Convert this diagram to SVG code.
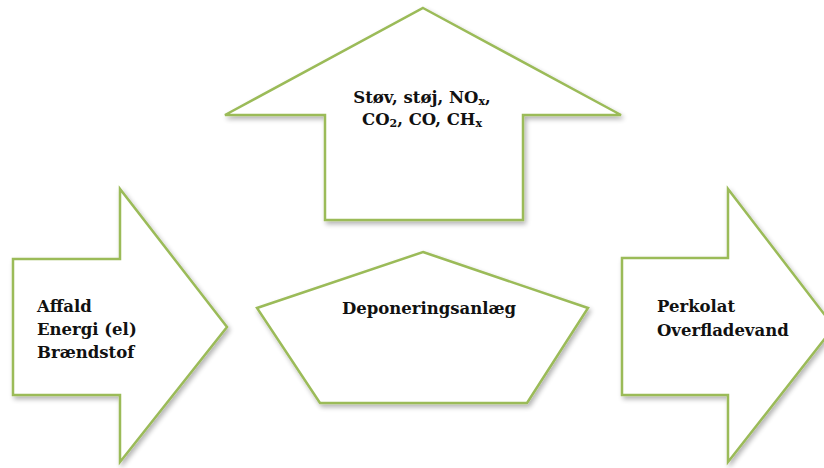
<svg xmlns="http://www.w3.org/2000/svg" width="824" height="468" viewBox="0 0 824 468">
<defs>
<filter id="sh" x="-10%" y="-10%" width="130%" height="130%">
<feGaussianBlur in="SourceAlpha" stdDeviation="2.5"/>
<feOffset dx="2" dy="3" result="b"/>
<feComponentTransfer><feFuncA type="linear" slope="0.3"/></feComponentTransfer>
<feMerge><feMergeNode/><feMergeNode in="SourceGraphic"/></feMerge>
</filter>
<style>
.s{fill:#ffffff;stroke:#9BBB59;stroke-width:2.5;stroke-linejoin:miter;filter:url(#sh)}
.t{font-family:"DejaVu Serif","Liberation Serif",serif;font-weight:bold;font-size:16.5px;fill:#111}
.sub{font-size:11px}
</style>
</defs>
<rect width="824" height="468" fill="#ffffff"/>
<g id="up-arrow">
<polygon class="s" points="423,8 621,115 523,115 523,220 325,220 325,115 225,115"/>
<text class="t" x="422" y="103" text-anchor="middle">Støv, støj, NO<tspan class="sub" dy="2">x</tspan><tspan dy="-2">,</tspan></text>
<text class="t" x="422" y="125" text-anchor="middle">CO<tspan class="sub" dy="2">2</tspan><tspan dy="-2">, CO, CH</tspan><tspan class="sub" dy="2">x</tspan></text>
</g>
<g id="input-arrow">
<polygon class="s" points="13,259 120,259 120,189 227,327 120,462 120,395 13,395"/>
<text class="t" x="37" y="312">Affald</text>
<text class="t" x="37" y="335">Energi (el)</text>
<text class="t" x="37" y="358">Brændstof</text>
</g>
<g id="plant">
<polygon class="s" points="423,252 588,308 527,403 320,403 257,308"/>
<text class="t" x="429" y="314" text-anchor="middle">Deponeringsanlæg</text>
</g>
<g id="output-arrow">
<polygon class="s" points="622,258 728,258 728,189 834,327 728,462 728,395 622,395"/>
<text class="t" x="657" y="312">Perkolat</text>
<text class="t" x="657" y="336">Overfladevand</text>
</g>
<g id="connectors"/>
</svg>
